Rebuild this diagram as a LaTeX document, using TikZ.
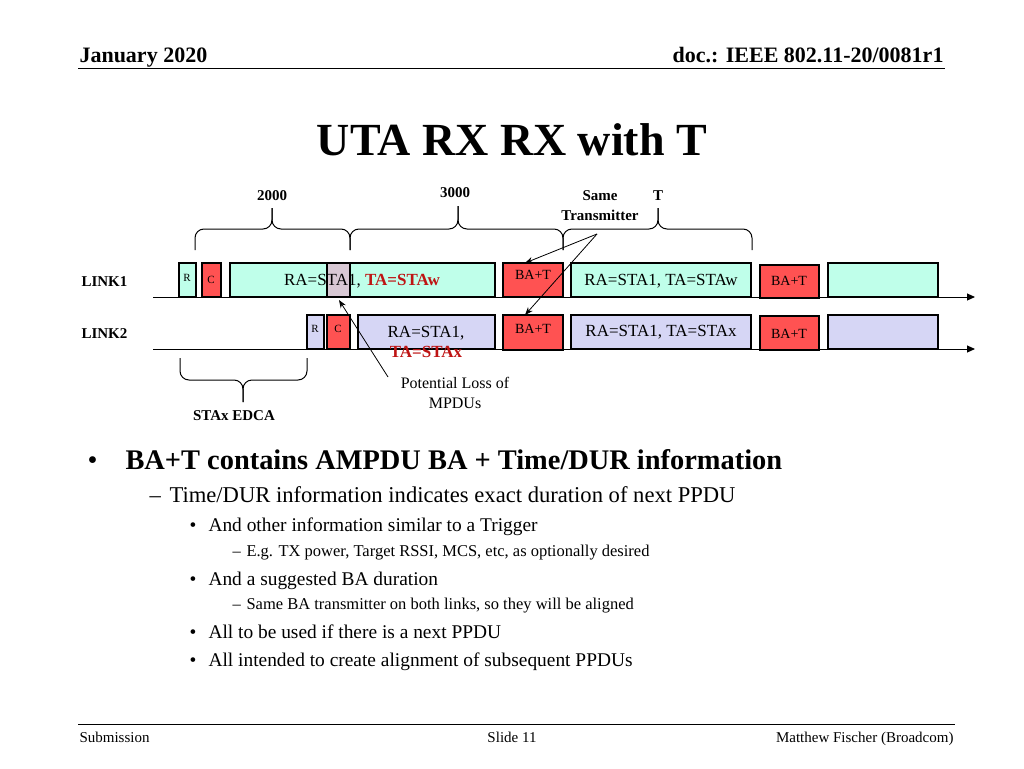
\documentclass[tikz,border=0pt]{standalone}
\usepackage{fontspec}
\setmainfont{Liberation Serif}
\usetikzlibrary{arrows.meta}
\definecolor{frmcyan}{RGB}{191,255,234}
\definecolor{frmlav}{RGB}{214,214,245}
\definecolor{frmred}{RGB}{255,82,82}
\definecolor{frmgray}{RGB}{216,200,212}
\definecolor{txtred}{RGB}{190,20,20}
\newcommand{\fs}[1]{\fontsize{#1}{#1}\selectfont}
% Klammer: x links, x rechts, x Spitze, y Enden, y Mitte, y Spitze
\newcommand{\timebrace}[6]{%
  \draw[line width=1pt, rounded corners=9pt] (#1,#4) -- (#1,#5) -- (#3,#5) -- (#3,#6);
  \draw[line width=1pt, rounded corners=9pt] (#3,#6) -- (#3,#5) -- (#2,#5) -- (#2,#4);}
\tikzset{
    every node/.style={anchor=base},
    frm/.style={draw, line width=1.2pt},
    lbl/.style={font=\fs{15}\bfseries},
}

\begin{document}
\begin{tikzpicture}[x=1pt, y=-1pt]
    \useasboundingbox (0,0) rectangle (1024,768);

    % Kopf- und Fusszeile
    \node[anchor=base west, font=\fs{22}\bfseries] (date) at (76,63) {January 2020};
    \node[anchor=base east, font=\fs{22}\bfseries] (doc) at (947,63) {doc.: IEEE 802.11-20/0081r1};
    \draw[line width=1pt] (78,68) -- (945,68);
    \node[font=\fs{46}\bfseries] (title) at (512,155) {UTA RX RX with T};
    \draw[line width=1pt] (78,724) -- (955,724);
    \node[anchor=base west, font=\fs{15}] (sub) at (76,742) {Submission};
    \node[font=\fs{15}] (slide) at (512,742) {Slide 11};
    \node[anchor=base east, font=\fs{15}] (auth) at (957,742) {Matthew Fischer (Broadcom)};

    % Zeitachsen
    \node[lbl, anchor=base west] (l1) at (78,286) {LINK1};
    \node[lbl, anchor=base west] (l2) at (78,338) {LINK2};
    \draw[line width=1pt, -{Triangle[length=8pt,width=7pt]}] (153,297) -- (975,297);
    \draw[line width=1pt, -{Triangle[length=8pt,width=7pt]}] (153,349) -- (975,349);

    % Rahmen LINK1
    \draw[frm, fill=frmcyan] (179,297) rectangle (196,263);
    \draw[frm, fill=frmred] (202,297) rectangle (221,263);
    \draw[frm, fill=frmcyan] (230,297) rectangle (495,263);
    \draw[frm, fill=frmgray] (327,297) rectangle (350,263);
    \node[font=\fs{17}] at (362,285) {RA=STA1, \textcolor{txtred}{\bfseries TA=STAw}};
    \draw[frm, fill=frmred] (503,297) rectangle (563,263);
    \draw[frm, fill=frmcyan] (571,297) rectangle (751,263);
    \draw[frm, fill=frmred] (760,298) rectangle (819,265);
    \draw[frm, fill=frmcyan] (828,297) rectangle (938,263);
    \node[font=\fs{11}] at (187,281) {R};
    \node[font=\fs{11}] at (211,283) {C};
    \node[font=\fs{14}] (bat1) at (533,279) {BA+T};
    \node[font=\fs{17}] at (661,285) {RA=STA1, TA=STAw};
    \node[font=\fs{14}] at (789,285) {BA+T};

    % Rahmen LINK2
    \draw[frm, fill=frmlav] (307,349) rectangle (324,315);
    \draw[frm, fill=frmred] (327,349) rectangle (350,315);
    \draw[frm, fill=frmlav] (358,349) rectangle (495,315);
    \draw[frm, fill=frmred] (503,350) rectangle (563,315);
    \draw[frm, fill=frmlav] (571,349) rectangle (751,315);
    \draw[frm, fill=frmred] (760,350) rectangle (819,316);
    \draw[frm, fill=frmlav] (828,349) rectangle (938,315);
    \node[font=\fs{11}] at (315,332) {R};
    \node[font=\fs{11}] at (338,332) {C};
    \node[font=\fs{17}] at (426,337) {RA=STA1,};
    \node[font=\fs{17}\bfseries, text=txtred] at (426,357) {TA=STAx};
    \node[font=\fs{14}] (bat2) at (533,333) {BA+T};
    \node[font=\fs{17}] at (661,336) {RA=STA1, TA=STAx};
    \node[font=\fs{14}] at (789,338) {BA+T};

    % Klammern
    \timebrace{195}{350}{272}{250}{229}{208}
    \timebrace{350}{563}{458}{250}{229}{206}
    \timebrace{563}{752}{658}{250}{229}{208}
    \timebrace{180}{307}{243}{358}{380}{402}
    \node[lbl] (b1) at (272,200) {2000};
    \node[lbl] (b2) at (455,197) {3000};
    \node[lbl] (b3) at (658,200) {T};
    \node[lbl] (same) at (600,200) {Same};
    \node[lbl] (trans) at (600,220) {Transmitter};
    \node[lbl] (edca) at (234,420) {STAx EDCA};

    % Pfeile
    \coordinate (st) at (597,234);
    \draw[line width=0.8pt, -{Stealth[length=8pt]}] (st) -- (525,263);
    \draw[line width=0.8pt, -{Stealth[length=8pt]}] (st) -- (525,315);
    \node[font=\fs{16}] (loss) at (455,388) {Potential Loss of};
    \node[font=\fs{16}] (mpdu) at (455,408) {MPDUs};
    \draw[line width=0.8pt, -{Stealth[length=8pt]}] (388,377) -- (339,300);

    % Aufzaehlung
    \node[anchor=base west, font=\fs{28.4}] at (84,469) {•};
    \node[anchor=base west, font=\fs{28.4}\bfseries] at (122,469) {BA+T contains AMPDU BA + Time/DUR information};
    \node[anchor=base west, font=\fs{22.6}] at (146,502) {–};
    \node[anchor=base west, font=\fs{22.6}] at (166,502) {Time/DUR information indicates exact duration of next PPDU};
    \node[anchor=base west, font=\fs{19.4}] at (186,531) {•};
    \node[anchor=base west, font=\fs{19.4}] at (205,531) {And other information similar to a Trigger};
    \node[anchor=base west, font=\fs{16.5}] at (229,556) {–};
    \node[anchor=base west, font=\fs{16.5}] at (243,556) {E.g. TX power, Target RSSI, MCS, etc, as optionally desired};
    \node[anchor=base west, font=\fs{19.4}] at (186,585) {•};
    \node[anchor=base west, font=\fs{19.4}] at (205,585) {And a suggested BA duration};
    \node[anchor=base west, font=\fs{16.5}] at (229,609) {–};
    \node[anchor=base west, font=\fs{16.5}] at (243,609) {Same BA transmitter on both links, so they will be aligned};
    \node[anchor=base west, font=\fs{19.4}] at (186,638) {•};
    \node[anchor=base west, font=\fs{19.4}] at (205,638) {All to be used if there is a next PPDU};
    \node[anchor=base west, font=\fs{19.4}] at (186,666) {•};
    \node[anchor=base west, font=\fs{19.4}] at (205,666) {All intended to create alignment of subsequent PPDUs};
\end{tikzpicture}
\end{document}
